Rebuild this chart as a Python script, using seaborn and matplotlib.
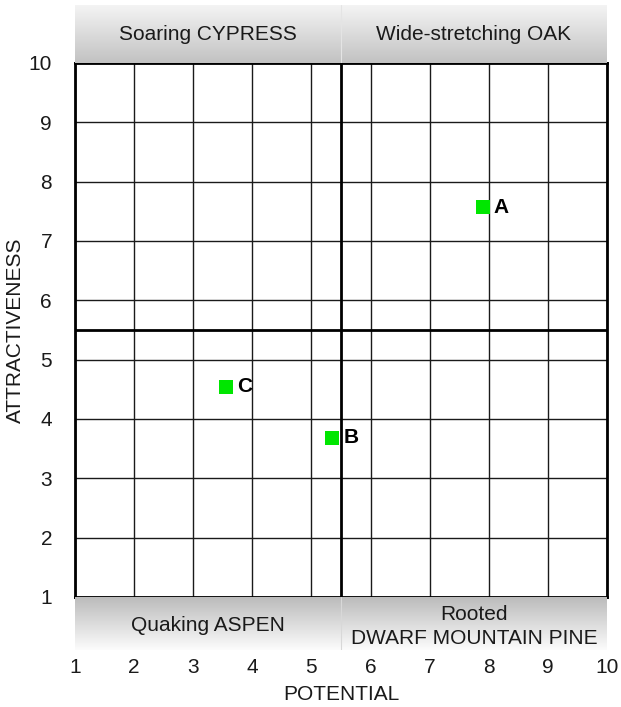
import numpy as np
import pandas as pd
import matplotlib
matplotlib.use("Agg")
import matplotlib.pyplot as plt
import seaborn as sns
from matplotlib.colors import LinearSegmentedColormap

# Data
labels = ["A", "B", "C"]
potential = [7.9, 5.35, 3.55]
attractiveness = [7.57, 3.68, 4.54]
ticks = list(range(1, 11))
top_quadrants = ["Soaring CYPRESS", "Wide-stretching OAK"]
bottom_quadrants = ["Quaking ASPEN", "Rooted\nDWARF MOUNTAIN PINE"]
split = 5.5

df = pd.DataFrame({"label": labels, "POTENTIAL": potential, "ATTRACTIVENESS": attractiveness})

sns.set_theme(style="white")
plt.rcParams['font.family'] = ['Liberation Sans', 'DejaVu Sans']

FS = 15
fig = plt.figure(figsize=(6.21, 7.07), dpi=100)
L, R = 75 / 621, 607 / 621
B, T = 1 - 597 / 707, 1 - 63 / 707
ax = fig.add_axes([L, B, R - L, T - B])

# gradient bands
top_b = 1 - 5 / 707
bot_b = 1 - 650 / 707
cmap_top = LinearSegmentedColormap.from_list("t", ["#f4f4f4", "#c2c2c2"])
cmap_bot = LinearSegmentedColormap.from_list("b", ["#bababa", "#fcfcfc"])
grad = np.linspace(0, 1, 256).reshape(-1, 1)

axt = fig.add_axes([L, T, R - L, top_b - T])
axt.imshow(grad, aspect="auto", cmap=cmap_top, extent=[1, 10, 0, 1], origin="upper")
axt.axvline(split, color="#e4e4e4", lw=0.8)
axt.set_xlim(1, 10); axt.set_ylim(0, 1); axt.axis("off")
axt.text((1 + split) / 2, 0.5, top_quadrants[0], ha="center", va="center", fontsize=FS, color="#1a1a1a")
axt.text((split + 10) / 2, 0.5, top_quadrants[1], ha="center", va="center", fontsize=FS, color="#1a1a1a")

axb = fig.add_axes([L, bot_b, R - L, B - bot_b])
axb.imshow(grad, aspect="auto", cmap=cmap_bot, extent=[1, 10, 0, 1], origin="upper")
axb.axvline(split, color="#d8d8d8", lw=0.8)
axb.set_xlim(1, 10); axb.set_ylim(0, 1); axb.axis("off")
axb.text((1 + split) / 2, 0.47, bottom_quadrants[0], ha="center", va="center", fontsize=FS, color="#1a1a1a")
axb.text((split + 10) / 2, 0.44, bottom_quadrants[1], ha="center", va="center", fontsize=FS, color="#1a1a1a",
         linespacing=1.3)

# grid
for t in ticks:
    ax.axvline(t, color="#1a1a1a", lw=1.0, zorder=1)
    ax.axhline(t, color="#1a1a1a", lw=1.0, zorder=1)
ax.axvline(split, color="black", lw=2, zorder=2)
ax.axhline(split, color="black", lw=2, zorder=2)

sns.scatterplot(data=df, x="POTENTIAL", y="ATTRACTIVENESS", marker="s", s=95, color="#00e600",
                edgecolor="none", linewidth=0, ax=ax, zorder=3)
for lab, x, y in zip(labels, potential, attractiveness):
    ax.annotate(lab, (x, y), xytext=(8, 0), textcoords="offset points", ha="left", va="center",
                fontsize=FS, fontweight="bold", color="black", zorder=4)

ax.set_xlim(1, 10)
ax.set_ylim(1, 10)
ax.set_xticks(ticks)
ax.set_yticks(ticks)
ax.tick_params(axis="x", length=0, pad=44, labelsize=FS, colors="#1a1a1a")
ax.tick_params(axis="y", length=0, pad=16.5, labelsize=FS, colors="#1a1a1a")
ax.set_xlabel("POTENTIAL", fontsize=FS, labelpad=6, color="#1a1a1a")
ax.set_ylabel("ATTRACTIVENESS", fontsize=FS, labelpad=3, color="#1a1a1a")
for sp in ax.spines.values():
    sp.set_visible(True)
    sp.set_color("black")
    sp.set_linewidth(2)
ax.grid(False)

fig.savefig("out.png", dpi=100, facecolor="white")
